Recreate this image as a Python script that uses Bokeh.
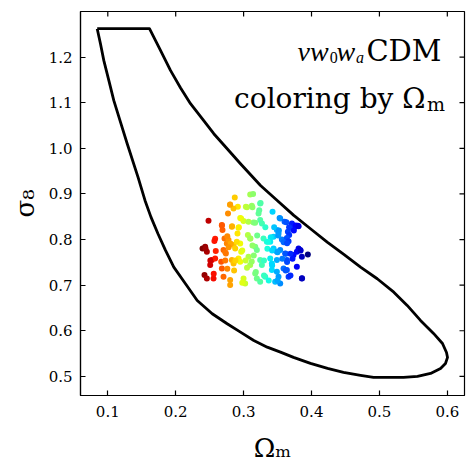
import math
import numpy as np
from bokeh.plotting import figure
from bokeh.models import FixedTicker, Label, ColumnDataSource, LinearColorMapper
from bokeh.transform import transform
from bokeh.embed import file_html
from bokeh.resources import INLINE

# ---- data ----
x_ticks = [0.1, 0.2, 0.3, 0.4, 0.5, 0.6]
x_tick_labels = ["0.1", "0.2", "0.3", "0.4", "0.5", "0.6"]
y_ticks = [0.5, 0.6, 0.7, 0.8, 0.9, 1.0, 1.1, 1.2]
y_tick_labels = ["0.5", "0.6", "0.7", "0.8", "0.9", "1.0", "1.1", "1.2"]
x_lim = (0.0598, 0.6253)
y_lim = (0.458, 1.300)

# prior boundary (closed contour)
contour_om = [0.0844, 0.1614, 0.1776, 0.1923, 0.2070, 0.2218, 0.2390, 0.2561, 0.2758, 0.2954,
              0.3249, 0.3495, 0.3739, 0.3985, 0.4231, 0.4476, 0.4722, 0.4968, 0.5212, 0.5409,
              0.5605, 0.5797, 0.5929, 0.5988, 0.6003, 0.5973, 0.5900, 0.5753, 0.5561, 0.5355,
              0.5164, 0.4913, 0.4722, 0.4471, 0.4236, 0.3985, 0.3735, 0.3543, 0.3348, 0.3150,
              0.2954, 0.2758, 0.2538, 0.2317, 0.2144, 0.1972, 0.1850, 0.1739, 0.1636, 0.1548,
              0.1445, 0.1286, 0.1187, 0.1088, 0.1015, 0.0941, 0.0892, 0.0844]
contour_s8 = [1.2623, 1.2623, 1.2147, 1.1708, 1.1329, 1.0978, 1.0649, 1.0320, 0.9991, 0.9662,
              0.9186, 0.8857, 0.8529, 0.8237, 0.7943, 0.7673, 0.7395, 0.7140, 0.6846, 0.6555,
              0.6226, 0.5941, 0.5721, 0.5524, 0.5415, 0.5283, 0.5173, 0.5064, 0.4998, 0.4976,
              0.4976, 0.4976, 0.5020, 0.5086, 0.5173, 0.5283, 0.5415, 0.5531, 0.5640, 0.5787,
              0.5969, 0.6154, 0.6373, 0.6664, 0.7031, 0.7395, 0.7761, 0.8127, 0.8491, 0.8857,
              0.9368, 1.0101, 1.0575, 1.1050, 1.1489, 1.1928, 1.2294, 1.2623]

# sample points (Omega_m, sigma_8)
omega_m = [0.3097, 0.2802, 0.2915, 0.2851, 0.3033, 0.3121, 0.3244, 0.2483, 0.2680, 0.2689,
           0.2827, 0.2964, 0.2999, 0.3072, 0.3146, 0.3220, 0.3244, 0.2925, 0.3063, 0.3097,
           0.2581, 0.2434, 0.2395, 0.2459, 0.2719, 0.2753, 0.2778, 0.2704, 0.2739, 0.2852,
           0.2876, 0.2950, 0.2964, 0.3171, 0.3195, 0.3293, 0.3342, 0.2532, 0.2581, 0.2508,
           0.2680, 0.2670, 0.2827, 0.2852, 0.2925, 0.2950, 0.3072, 0.3097, 0.3244, 0.3269,
           0.2424, 0.2557, 0.2459, 0.2704, 0.2802, 0.2802, 0.2999, 0.3023, 0.3171, 0.3195,
           0.3244, 0.3318,
           0.3426, 0.3539, 0.3603, 0.3720, 0.3760, 0.3799, 0.3686, 0.3711, 0.3490, 0.3514,
           0.3652, 0.3671, 0.3441, 0.3392, 0.3563, 0.3637, 0.3662, 0.3441, 0.3490, 0.3539,
           0.3809, 0.3833, 0.3784, 0.3735, 0.3858, 0.3946, 0.3612, 0.3637, 0.3392, 0.3490,
           0.3416, 0.3588, 0.3637, 0.3416, 0.3490, 0.3514, 0.3784, 0.3662, 0.3858, 0.3465,
           0.3539,
           0.287, 0.314, 0.280, 0.277, 0.305, 0.313, 0.325, 0.323, 0.268, 0.283,
           0.295, 0.293, 0.317, 0.327, 0.332, 0.353, 0.363, 0.345, 0.352, 0.367,
           0.377, 0.381, 0.374, 0.257, 0.276, 0.291, 0.281, 0.278, 0.310, 0.320,
           0.340, 0.351, 0.359, 0.364, 0.244, 0.259, 0.273, 0.298, 0.313, 0.335,
           0.342, 0.350, 0.362, 0.369, 0.384, 0.372, 0.251, 0.273, 0.288, 0.303,
           0.315, 0.330, 0.342, 0.357, 0.364, 0.256, 0.276, 0.286, 0.298, 0.305,
           0.318, 0.330, 0.337, 0.350, 0.362, 0.369, 0.386, 0.290, 0.312, 0.336]
sigma_8 = [0.8989, 0.8770, 0.8719, 0.8682, 0.8719, 0.8741, 0.8792, 0.8412, 0.8317, 0.8207,
           0.8280, 0.8463, 0.8405, 0.8390, 0.8375, 0.8573, 0.8427, 0.8259, 0.8098, 0.8025,
           0.8018, 0.7842, 0.7805, 0.7732, 0.8025, 0.7915, 0.7988, 0.7769, 0.7696, 0.7878,
           0.7805, 0.7915, 0.7732, 0.7842, 0.7769, 0.8025, 0.7951, 0.7549, 0.7586, 0.7440,
           0.7367, 0.7513, 0.7549, 0.7476, 0.7586, 0.7513, 0.7622, 0.7440, 0.7549, 0.7440,
           0.7220, 0.7147, 0.7147, 0.7184, 0.7111, 0.7001, 0.7147, 0.7038, 0.7257, 0.7147,
           0.7074, 0.7184,
           0.8609, 0.8463, 0.8390, 0.8317, 0.8280, 0.8302, 0.8259, 0.8354, 0.8207, 0.8134,
           0.8171, 0.8098, 0.8061, 0.7951, 0.8000, 0.8036, 0.7964, 0.7805, 0.7732, 0.7769,
           0.7805, 0.7769, 0.7732, 0.7659, 0.7622, 0.7674, 0.7696, 0.7549, 0.7586, 0.7549,
           0.7476, 0.7367, 0.7330, 0.7330, 0.7294, 0.7184, 0.7403, 0.7184, 0.7147, 0.7074,
           0.7038,
           0.892, 0.900, 0.876, 0.857, 0.871, 0.871, 0.880, 0.864, 0.831, 0.829,
           0.847, 0.827, 0.837, 0.835, 0.827, 0.847, 0.838, 0.827, 0.820, 0.827,
           0.831, 0.829, 0.820, 0.797, 0.807, 0.813, 0.791, 0.783, 0.802, 0.809,
           0.805, 0.809, 0.794, 0.792, 0.780, 0.775, 0.772, 0.776, 0.787, 0.780,
           0.776, 0.772, 0.769, 0.769, 0.776, 0.758, 0.754, 0.754, 0.754, 0.754,
           0.765, 0.754, 0.743, 0.758, 0.751, 0.725, 0.736, 0.732, 0.705, 0.738,
           0.729, 0.721, 0.710, 0.710, 0.732, 0.721, 0.715, 0.795, 0.752, 0.795]


# ---- jet colormap (reversed: low Omega_m -> dark red) ----
def jet_palette(n=256):
    v = np.linspace(0, 1, n)
    r = np.interp(v, [0, 0.35, 0.66, 0.89, 1], [0, 0, 1, 1, 0.5])
    g = np.interp(v, [0, 0.125, 0.375, 0.64, 0.91, 1], [0, 0, 1, 1, 0, 0])
    b = np.interp(v, [0, 0.11, 0.34, 0.65, 1], [0.5, 1, 1, 0, 0])
    return ["#%02x%02x%02x" % (int(round(a * 255)), int(round(c * 255)), int(round(d * 255)))
            for a, c, d in zip(r, g, b)]


palette = jet_palette()[::-1]
mapper = LinearColorMapper(palette=palette, low=min(omega_m), high=max(omega_m))

SERIF = "DejaVu Serif"

p = figure(width=468, height=466, x_range=x_lim, y_range=y_lim,
           output_backend="svg", toolbar_location=None,
           min_border_left=80, min_border_right=4, min_border_top=11, min_border_bottom=71)
p.xgrid.visible = False
p.ygrid.visible = False
p.outline_line_color = "black"
p.outline_line_width = 1.2
p.background_fill_color = "white"
p.border_fill_color = "white"

p.line(contour_om, contour_s8, line_color="black", line_width=2.8, line_join="round")

src = ColumnDataSource(dict(x=omega_m, y=sigma_8))
p.scatter("x", "y", source=src, size=6, line_color=None,
          fill_color=transform("x", mapper))

# inward ticks on the top and right edges (half of each dash is clipped by the frame)
p.scatter(x=x_ticks, y=[y_lim[1]] * len(x_ticks), marker="dash", angle=math.pi / 2,
          size=10, line_color="black", line_width=1.2)
p.scatter(x=[x_lim[1]] * len(y_ticks), y=y_ticks, marker="dash", angle=0,
          size=10, line_color="black", line_width=1.2)


def style_axis(ax, ticks, labels):
    ax.ticker = FixedTicker(ticks=ticks)
    ax.major_label_overrides = {t: l for t, l in zip(ticks, labels)}
    ax.major_tick_in = 5
    ax.major_tick_out = 0
    ax.minor_tick_in = 0
    ax.minor_tick_out = 0
    ax.axis_line_color = "black"
    ax.axis_line_width = 1.2
    ax.major_tick_line_color = "black"
    ax.major_tick_line_width = 1.2
    ax.major_label_text_font = SERIF
    ax.major_label_text_color = "black"
    ax.major_label_text_font_size = "15px"
    ax.axis_label_text_font = SERIF
    ax.axis_label_text_font_size = "26px"
    ax.axis_label_text_font_style = "normal"
    ax.axis_label_text_color = "black"


style_axis(p.xaxis[0], x_ticks, x_tick_labels)
style_axis(p.yaxis[0], y_ticks, y_tick_labels)
p.xaxis[0].major_label_standoff = 10
p.yaxis[0].major_label_standoff = 8
p.xaxis[0].axis_label = "Ωₘ"
p.yaxis[0].axis_label = "σ₈"
p.xaxis[0].axis_label_standoff = 13
p.yaxis[0].axis_label_standoff = 6

# ---- annotation text ----
MATH = "Liberation Serif"
p.add_layout(Label(x=0.3794, y=1.2125, text="νw", text_font=MATH, text_font_size="28px",
                   text_font_style="italic", text_align="left", text_baseline="alphabetic",
                   text_color="black"))
p.add_layout(Label(x=0.4268, y=1.1995, text="0", text_font=MATH, text_font_size="16px",
                   text_align="left", text_baseline="alphabetic", text_color="black"))
p.add_layout(Label(x=0.4368, y=1.2125, text="w", text_font=MATH, text_font_size="28px",
                   text_font_style="italic", text_align="left", text_baseline="alphabetic",
                   text_color="black"))
p.add_layout(Label(x=0.4655, y=1.1995, text="a", text_font=MATH, text_font_size="16px",
                   text_font_style="italic", text_align="left", text_baseline="alphabetic",
                   text_color="black"))
p.add_layout(Label(x=0.5915, y=1.2125, text="CDM", text_font=SERIF, text_font_size="29px",
                   text_align="right", text_baseline="alphabetic", text_color="black"))

p.add_layout(Label(x=0.5679, y=1.1094, text="coloring by Ω", text_font=SERIF,
                   text_font_size="28px", text_align="right", text_baseline="alphabetic",
                   text_color="black"))
p.add_layout(Label(x=0.5701, y=1.0975, text="m", text_font=SERIF, text_font_size="19px",
                   text_align="left", text_baseline="alphabetic", text_color="black"))

open("out.html", "w").write(file_html(p, INLINE))
